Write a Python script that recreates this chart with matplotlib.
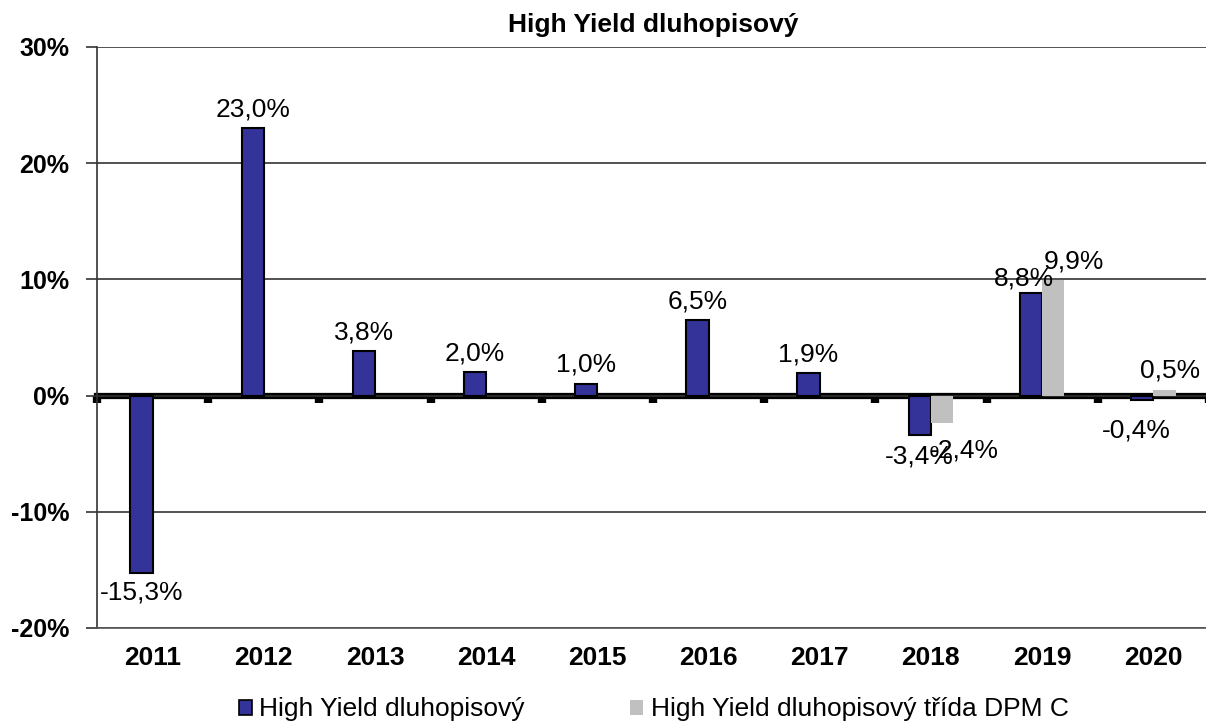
import numpy as np
import matplotlib
matplotlib.use("Agg")
import matplotlib.pyplot as plt
from matplotlib.patches import Patch

plt.rcParams['font.family'] = ['Liberation Sans', 'DejaVu Sans']

years = ['2011', '2012', '2013', '2014', '2015', '2016', '2017', '2018', '2019', '2020']
fund = [-15.3, 23.0, 3.8, 2.0, 1.0, 6.5, 1.9, -3.4, 8.8, -0.4]
fund_c = [None, None, None, None, None, None, None, -2.4, 9.9, 0.5]
yticks = [-20, -10, 0, 10, 20, 30]

title = 'High Yield dluhopisový'
name_fund = 'High Yield dluhopisový'
name_c = 'High Yield dluhopisový třída DPM C'

blue = '#333399'
grey = '#c0c0c0'

# label nudges in points (x, y), to mimic the reference placement
nudge_fund = {7: (0, -2), 8: (-5, -3), 9: (-4, -8)}
nudge_c = {7: (16, -6), 8: (15, 0), 9: (4, 0)}


def fmt(v):
    return ('%.1f%%' % v).replace('.', ',')


fig = plt.figure(figsize=(12.06, 7.21), dpi=100)
ax = fig.add_axes([0.0804, 0.129, 0.922, 0.806])

x = np.arange(len(years))
w = 0.2

ax.bar(x - w / 2, fund, width=w, color=blue, edgecolor='black', linewidth=1.5, zorder=3)
cx = [xi for xi, v in zip(x, fund_c) if v is not None]
cv = [v for v in fund_c if v is not None]
ax.bar(np.array(cx) + w / 2, cv, width=w, color=grey, edgecolor='none', zorder=3)

for i, v in enumerate(fund):
    dx, dy = nudge_fund.get(i, (0, 0))
    off = 5 if v >= 0 else -5
    ax.annotate(fmt(v), (x[i] - w / 2, v), xytext=(dx, off + dy), textcoords='offset points',
                ha='center', va='bottom' if v >= 0 else 'top', fontsize=19, zorder=5)
for xi, v in zip(cx, cv):
    dx, dy = nudge_c.get(xi, (0, 0))
    off = 5 if v >= 0 else -5
    ax.annotate(fmt(v), (xi + w / 2, v), xytext=(dx, off + dy), textcoords='offset points',
                ha='center', va='bottom' if v >= 0 else 'top', fontsize=19, zorder=5)

ax.set_xlim(-0.5, len(years) - 0.5)
ax.set_ylim(-20, 30)
ax.set_yticks(yticks)
ax.set_yticklabels(['%d%%' % t for t in yticks], fontsize=18, fontweight='bold')
ax.set_xticks(x)
ax.set_xticklabels(years, fontsize=19, fontweight='bold')
ax.tick_params(axis='x', length=0, pad=13)
ax.tick_params(axis='y', length=8, width=1.2, color='#333333', pad=12)

for t in yticks:
    ax.axhline(t, color='#333333', linewidth=1.2, zorder=1)

for s in ['top', 'right']:
    ax.spines[s].set_visible(False)
ax.spines['left'].set_color('#333333')
ax.spines['left'].set_linewidth(1.2)
ax.spines['bottom'].set_color('#555555')
ax.spines['bottom'].set_linewidth(1.2)

# thick zero axis with category boundary ticks
zero = ax.secondary_xaxis(0.4)
zero.set_xticks(np.arange(len(years) + 1) - 0.5)
zero.set_xticklabels([])
zero.tick_params(length=5, width=6, color='black', direction='out')
zero.spines['bottom'].set_linewidth(4.5)
zero.spines['bottom'].set_zorder(6)

ax.set_title(title, fontsize=19, fontweight='bold', pad=11)

handles = [Patch(facecolor=blue, edgecolor='black', linewidth=1.2),
           Patch(facecolor=grey, edgecolor='none')]
fig.legend(handles, [name_fund, name_c], loc='center', bbox_to_anchor=(0.542, 0.016),
           ncol=2, frameon=False, fontsize=19, handlelength=0.5, handleheight=0.5,
           handletextpad=0.27, columnspacing=4.0)

fig.savefig('out.png', dpi=100)
